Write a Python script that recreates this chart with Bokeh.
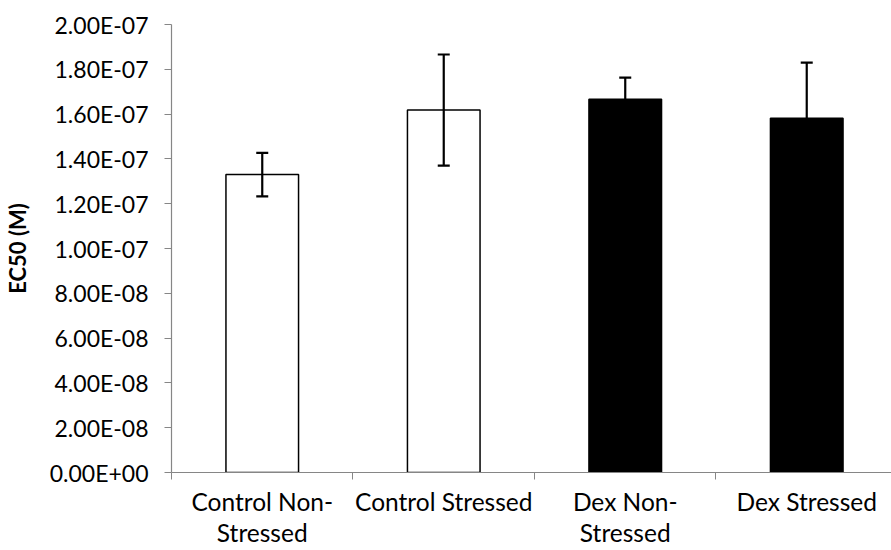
from bokeh.plotting import figure
from bokeh.models import (ColumnDataSource, Range1d, FixedTicker, Whisker, TeeHead)
from bokeh.embed import file_html
from bokeh.resources import INLINE

# ---- data ----
categories = ["Control Non-\nStressed", "Control Stressed", "Dex Non-\nStressed", "Dex Stressed"]
ec50 = [1.33e-07, 1.618e-07, 1.666e-07, 1.582e-07]
err = [0.97e-08, 2.48e-08, 0.97e-08, 2.48e-08]
fills = ["white", "white", "black", "black"]
y_ticks = [0.0, 2e-08, 4e-08, 6e-08, 8e-08, 1e-07, 1.2e-07, 1.4e-07, 1.6e-07, 1.8e-07, 2e-07]
y_tick_labels = ["0.00E+00", "2.00E-08", "4.00E-08", "6.00E-08", "8.00E-08", "1.00E-07",
                 "1.20E-07", "1.40E-07", "1.60E-07", "1.80E-07", "2.00E-07"]

xpos = [i + 0.5 for i in range(len(categories))]
src = ColumnDataSource(dict(
    x=xpos, top=ec50, fill=fills,
    upper=[v + e for v, e in zip(ec50, err)],
    lower=[v - e for v, e in zip(ec50, err)],
))

FONT = "Lato"

p = figure(width=891, height=550, output_backend="svg", toolbar_location=None,
           x_range=Range1d(0, 3.967), y_range=Range1d(0, 2e-07),
           min_border_left=171, min_border_top=24, min_border_right=0, min_border_bottom=10)
p.outline_line_color = None
p.xgrid.grid_line_color = None
p.ygrid.grid_line_color = None

p.vbar(x="x", top="top", width=0.4, bottom=0, source=src,
       fill_color="fill", line_color="black", line_width=1.5)

wh = Whisker(base="x", upper="upper", lower="lower", source=src,
             line_color="black", line_width=2.2, level="overlay",
             upper_head=TeeHead(size=12, line_color="black", line_width=2.2),
             lower_head=TeeHead(size=12, line_color="black", line_width=2.2))
p.add_layout(wh)

# y axis
ya = p.yaxis[0]
ya.ticker = FixedTicker(ticks=y_ticks, minor_ticks=[])
ya.major_label_overrides = {t: l for t, l in zip(y_ticks, y_tick_labels)}
ya.axis_line_color = "#868686"
ya.axis_line_width = 1.2
ya.major_tick_line_color = "#868686"
ya.major_tick_in = 0
ya.major_tick_out = 7
ya.minor_tick_line_color = None
ya.major_label_text_font = FONT
ya.major_label_text_font_size = "23px"
ya.major_label_text_color = "black"
ya.major_label_standoff = 16
ya.axis_label = "EC50 (M)"
ya.axis_label_text_font = FONT
ya.axis_label_text_font_style = "bold"
ya.axis_label_text_font_size = "22px"
ya.axis_label_text_color = "black"
ya.axis_label_standoff = 16

# x axis
xa = p.xaxis[0]
xa.ticker = FixedTicker(ticks=xpos, minor_ticks=[0, 1, 2, 3])
xa.major_label_overrides = {x: c for x, c in zip(xpos, categories)}
xa.axis_line_color = "#868686"
xa.axis_line_width = 1.2
xa.major_tick_line_color = None
xa.major_tick_in = 0
xa.major_tick_out = 0
xa.minor_tick_line_color = "#868686"
xa.minor_tick_in = 0
xa.minor_tick_out = 7
xa.major_label_text_font = FONT
xa.major_label_text_font_size = "24.5px"
xa.major_label_text_color = "black"
xa.major_label_text_line_height = 1.1
xa.major_label_standoff = 7

open("out.html", "w").write(file_html(p, INLINE))
